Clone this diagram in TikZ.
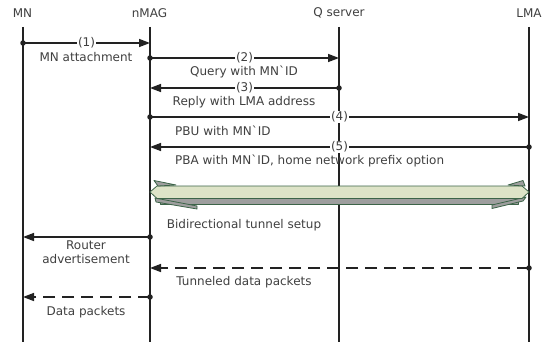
\documentclass[tikz,border=0pt]{standalone}
\usepackage{fontspec}
\setmainfont{DejaVu Sans}
\usetikzlibrary{arrows.meta}
\definecolor{txt}{HTML}{404040}
\definecolor{ln}{HTML}{222222}
\definecolor{tunfill}{HTML}{DDE3C7}
\definecolor{tunedge}{HTML}{3C6448}
\definecolor{tungrey}{HTML}{9E9E9E}
\begin{document}
\begin{tikzpicture}[x=1pt,y=-1pt,
  lifeline/.style={line width=1.5pt, draw=ln},
  msg/.style={line width=1.5pt, draw=ln, -{Triangle[length=11pt,width=8pt]}},
  dmsg/.style={msg, dash pattern=on 12pt off 7pt},
  dot/.style={circle, fill=ln, inner sep=0pt, minimum size=5.5pt},
  lbl/.style={text=txt, font=\fontsize{12}{14}\selectfont, inner sep=0pt},
  num/.style={lbl, fill=white, inner xsep=1pt, inner ysep=1pt},
  tface/.style={fill=tunfill, draw=tunedge, line width=0.8pt, line join=round},
  tside/.style={fill=tungrey, draw=tunedge, line width=0.8pt, line join=round}]
\useasboundingbox (0,0) rectangle (551,342);
\fill[white] (0,0) rectangle (551,342);
% headers
\node[lbl] (hMN) at (22.5,13) {MN};
\node[lbl] (hMAG) at (149.5,13) {nMAG};
\node[lbl] (hQ) at (339,13) {Q server};
\node[lbl] (hLMA) at (529,13) {LMA};
% lifelines
\coordinate (tMN) at (23,27); \coordinate (bMN) at (23,342);
\coordinate (tMAG) at (150,27); \coordinate (bMAG) at (150,342);
\coordinate (tQ) at (339,27); \coordinate (bQ) at (339,342);
\coordinate (tLMA) at (529,27); \coordinate (bLMA) at (529,342);
\draw[lifeline] (tMN) -- (bMN);
\draw[lifeline] (tMAG) -- (bMAG);
\draw[lifeline] (tQ) -- (bQ);
\draw[lifeline] (tLMA) -- (bLMA);
% (1)
\node[dot] (s1) at (23,43) {};
\coordinate (e1) at (150,43);
\draw[msg] (s1.center) -- node[num] {(1)} (e1);
\node[lbl] (l1) at (86,57) {MN attachment};
% (2)
\node[dot] (s2) at (150,58) {};
\coordinate (e2) at (339,58);
\draw[msg] (s2.center) -- node[num] {(2)} (e2);
\node[lbl] (l2) at (244,72) {Query with MN\textasciigrave ID};
% (3)
\node[dot] (s3) at (339,88) {};
\coordinate (e3) at (150,88);
\draw[msg] (s3.center) -- node[num] {(3)} (e3);
\node[lbl] (l3) at (244,102) {Reply with LMA address};
% (4)
\node[dot] (s4) at (150,117) {};
\coordinate (e4) at (529,117);
\draw[msg] (s4.center) -- node[num] {(4)} (e4);
\node[lbl, anchor=west] (l4) at (175,131) {PBU with MN\textasciigrave ID};
% (5)
\node[dot] (s5) at (529,147) {};
\coordinate (e5) at (150,147);
\draw[msg] (s5.center) -- node[num] {(5)} (e5);
\node[lbl, anchor=west] (l5) at (175,161) {PBA with MN\textasciigrave ID, home network prefix option};
% tunnel
\draw[tside] (160,198) -- (518,198) -- (518,204) -- (160,204) -- cycle;
\draw[tside] (155,198) -- (197,206) -- (197,209) -- (156,202) -- cycle;
\draw[tside] (526,197) -- (492,205) -- (492,208.5) -- (523,201) -- cycle;
\draw[tface] (150,192) -- (157,186) -- (522,186) -- (529,192) -- (522,198.5) -- (157,198.5) -- cycle;
\draw[tside] (154,180.5) -- (176,185) -- (158,186) -- cycle;
\draw[tside] (523,180.5) -- (508,185) -- (525,186) -- cycle;
\node[lbl] (lt) at (244,225) {Bidirectional tunnel setup};
% router advertisement
\node[dot] (s6) at (150,237) {};
\coordinate (e6) at (23,237);
\draw[msg] (s6.center) -- (e6);
\node[lbl, align=center] (l6) at (86,252) {Router\\advertisement};
% tunneled data
\node[dot] (s7) at (529,268) {};
\coordinate (e7) at (150,268);
\draw[dmsg] (s7.center) -- (e7);
\node[lbl] (l7) at (244,282) {Tunneled data packets};
% data packets
\node[dot] (s8) at (150,297) {};
\coordinate (e8) at (23,297);
\draw[dmsg] (s8.center) -- (e8);
\node[lbl] (l8) at (86,312) {Data packets};
\end{tikzpicture}
\end{document}
